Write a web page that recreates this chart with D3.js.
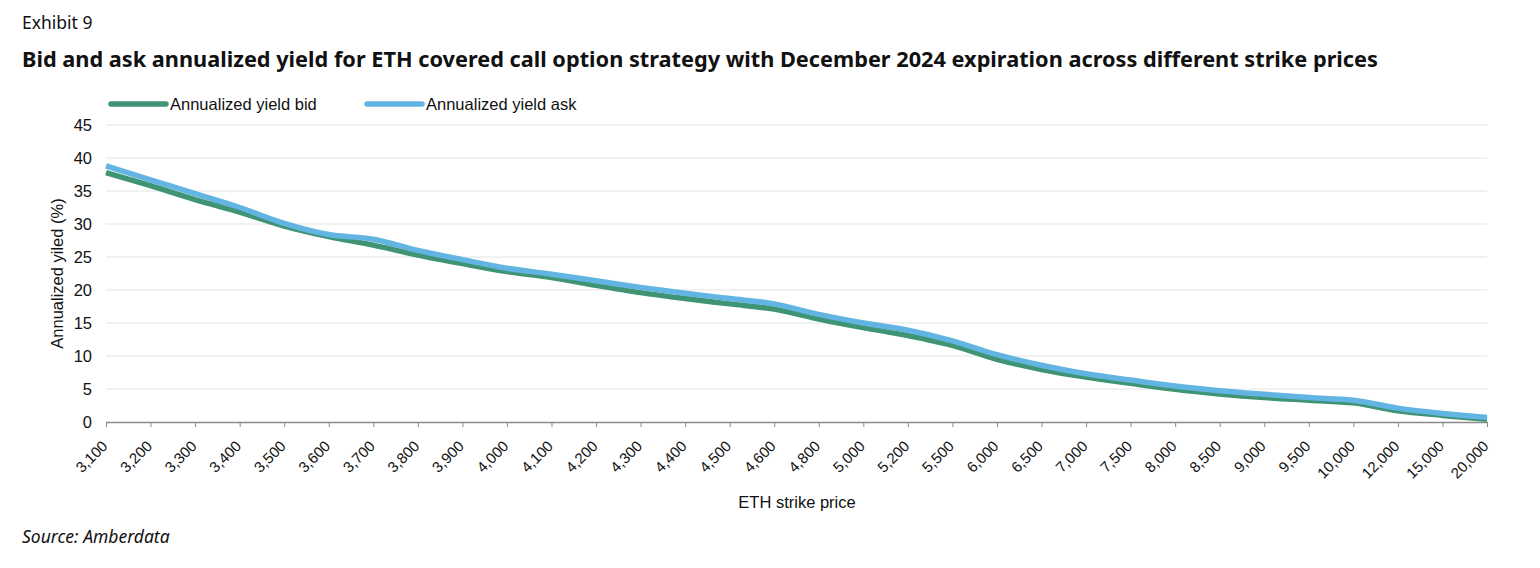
<!DOCTYPE html>
<html>
<head>
<meta charset="utf-8">
<script src="https://cdn.jsdelivr.net/npm/d3@7"></script>
<style>
  html, body { margin: 0; padding: 0; background: #fff; }
  svg { display: block; }
</style>
</head>
<body>
<svg id="chart" width="1540" height="568"></svg>
<script>
const categories = ["3,100","3,200","3,300","3,400","3,500","3,600","3,700","3,800","3,900","4,000","4,100","4,200","4,300","4,400","4,500","4,600","4,800","5,000","5,200","5,500","6,000","6,500","7,000","7,500","8,000","8,500","9,000","9,500","10,000","12,000","15,000","20,000"];
const bidValues = [37.8,35.8,33.7,31.8,29.7,28.1,26.8,25.3,24.0,22.8,21.9,20.7,19.6,18.7,17.9,17.1,15.6,14.3,13.1,11.6,9.5,7.95,6.8,5.85,4.95,4.25,3.7,3.3,2.9,1.7,1.0,0.4];
const askValues = [38.8,36.7,34.6,32.5,30.1,28.4,27.7,26.0,24.6,23.3,22.4,21.4,20.4,19.5,18.7,17.9,16.3,15.0,13.9,12.3,10.2,8.6,7.3,6.35,5.45,4.75,4.2,3.7,3.3,2.1,1.3,0.7];
const yTicks = [0,5,10,15,20,25,30,35,40,45];
const seriesNames = ["Annualized yield bid","Annualized yield ask"];
const seriesColors = ["#3f9474","#62b4e2"];

(function draw() {
const svg = d3.select("#chart");
const pLeft = 106, pRight = 1487, pTop = 125, pBottom = 422;
const sans = "'Liberation Sans', Arial, sans-serif";
const brand = "'Noto Sans', 'Open Sans', sans-serif";

const x = d3.scalePoint().domain(categories).range([pLeft, pRight]);
const y = d3.scaleLinear().domain([0,45]).range([pBottom, pTop]);

// Header
svg.append("text").attr("x",22).attr("y",29)
  .attr("font-family",brand).attr("font-size",17.5).attr("fill","#111")
  .text("Exhibit 9");
const title = svg.append("text").attr("x",22).attr("y",67)
  .attr("font-family",brand).attr("font-weight","bold").attr("font-size",21).attr("fill","#111")
  .text("Bid and ask annualized yield for ETH covered call option strategy with December 2024 expiration across different strike prices");
{
  const w = title.node().getComputedTextLength();
  title.attr("font-size", 21 * 1356 / w);
}

// gridlines
svg.append("g").selectAll("line").data(yTicks.filter(d => d > 0)).join("line")
  .attr("x1", pLeft).attr("x2", pRight)
  .attr("y1", d => y(d)).attr("y2", d => y(d))
  .attr("stroke","#e4e4e4").attr("stroke-width",1);

// Y axis labels
const yAxis = d3.axisLeft(y).tickValues(yTicks).tickSize(0).tickPadding(14);
const gy = svg.append("g").attr("transform",`translate(${pLeft},0)`).call(yAxis);
gy.select(".domain").remove();
gy.selectAll("text").attr("font-family",sans).attr("font-size",16.5).attr("fill","#111");

// X axis
const xAxis = d3.axisBottom(x).tickSize(5).tickSizeOuter(0);
const gx = svg.append("g").attr("transform",`translate(0,${pBottom})`).call(xAxis);
gx.select(".domain").attr("stroke","#8a8a8a").attr("stroke-width",1.3);
gx.selectAll(".tick line").attr("stroke","#8a8a8a");
gx.selectAll("text")
  .attr("font-family",sans).attr("font-size",15).attr("fill","#111")
  .attr("text-anchor","end")
  .attr("dy",0).attr("y",0)
  .attr("transform","translate(2,25) rotate(-45)");

// axis titles
svg.append("text")
  .attr("transform",`translate(63,${(pTop+pBottom)/2}) rotate(-90)`)
  .attr("text-anchor","middle")
  .attr("font-family",sans).attr("font-size",16.5).attr("fill","#111")
  .text("Annualized yiled (%)");
svg.append("text").attr("x",797).attr("y",508).attr("text-anchor","middle")
  .attr("font-family",sans).attr("font-size",16.5).attr("fill","#111")
  .text("ETH strike price");

// lines
const line = d3.line().x((d,i) => x(categories[i])).y(d => y(d)).curve(d3.curveMonotoneX);
[bidValues, askValues].forEach((vals, k) => {
  svg.append("path").datum(vals).attr("d", line)
    .attr("fill","none").attr("stroke", seriesColors[k]).attr("stroke-width",5.5)
    .attr("stroke-linejoin","round");
});

// legend
const legendX = [111, 367];
seriesNames.forEach((name, k) => {
  svg.append("line").attr("x1",legendX[k]).attr("x2",legendX[k]+55).attr("y1",104).attr("y2",104)
    .attr("stroke",seriesColors[k]).attr("stroke-width",5.5).attr("stroke-linecap","round");
  svg.append("text").attr("x",legendX[k]+59).attr("y",110)
    .attr("font-family",sans).attr("font-size",16.5).attr("fill","#111")
    .text(name);
});

// source
svg.append("text").attr("x",22).attr("y",543)
  .attr("font-family",brand).attr("font-style","italic").attr("font-size",17.5).attr("fill","#111")
  .text("Source: Amberdata");
})();
</script>
</body>
</html>
